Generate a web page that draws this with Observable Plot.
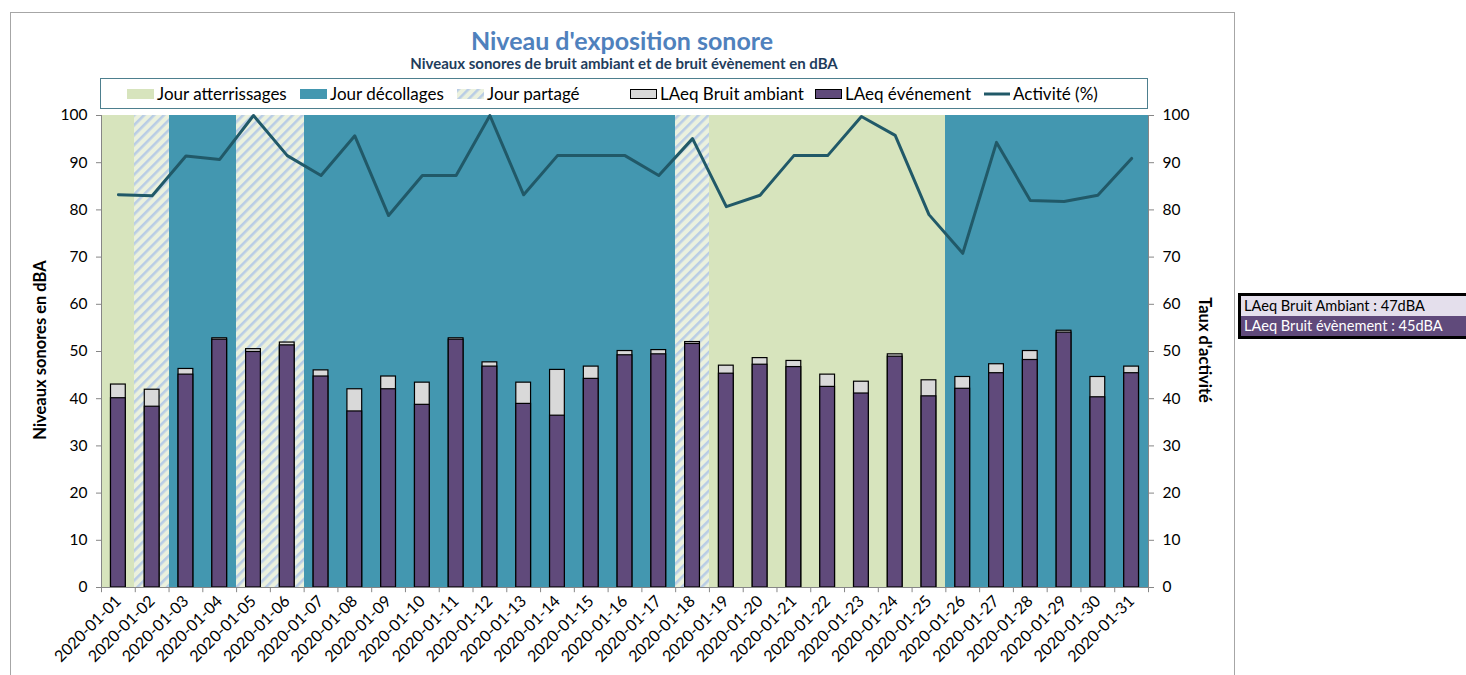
<!DOCTYPE html>
<html><head><meta charset="utf-8">
<script src="https://cdn.jsdelivr.net/npm/d3@7"></script>
<script src="https://cdn.jsdelivr.net/npm/@observablehq/plot@0.6"></script>
<style>
body{margin:0;width:1466px;height:675px;position:relative;overflow:hidden;background:#fff;font-family:Lato,"Open Sans",sans-serif;}
.abs{position:absolute;}
#frame{left:10px;top:12px;width:1223px;height:720px;border:1px solid #a6a6a6;}
#title{left:10px;width:1224px;top:25px;text-align:center;font-size:25px;font-weight:bold;color:#4f81bd;line-height:30px;}
#subtitle{left:10px;width:1228px;top:55px;text-align:center;font-size:15px;font-weight:bold;color:#1f3d5c;line-height:17px;}
#legend{left:100px;top:78px;width:1046px;height:29px;border:1px solid #4d7f8e;background:#fff;}
.li{position:absolute;top:0;height:29px;display:flex;align-items:center;font-size:17px;color:#000;white-space:nowrap;}
.sw{display:inline-block;height:10px;margin-right:3px;box-sizing:border-box;}
#chart{left:0;top:0;}
.ytitle{font-size:16.5px;font-weight:bold;white-space:nowrap;}
#info{left:1238px;top:293px;width:232px;border:3px solid #000;font-size:14.6px;}
#info div{height:20px;line-height:20px;padding-left:3px;}
</style></head>
<body>
<svg width="0" height="0" style="position:absolute">
 <defs>
  <pattern id="hatch" patternUnits="userSpaceOnUse" width="7" height="7" patternTransform="rotate(45)">
   <rect x="0" y="0" width="7" height="7" fill="#ebf1de"></rect>
   <rect x="0" y="0" width="2.6" height="7" fill="#b9cde5"></rect>
  </pattern>
 </defs>
</svg>
<div id="frame" class="abs"></div>
<div id="chart" class="abs"></div>
<div id="title" class="abs">Niveau d'exposition sonore</div>
<div id="subtitle" class="abs">Niveaux sonores de bruit ambiant et de bruit évènement en dBA</div>
<div id="legend" class="abs"></div>
<div class="abs ytitle" id="yl">Niveaux sonores en dBA</div>
<div class="abs ytitle" id="yr">Taux d'activité</div>
<div id="info" class="abs">
 <div style="background:#e4dfec;color:#000">LAeq Bruit Ambiant : 47dBA</div>
 <div style="background:#604a7b;color:#fff">LAeq Bruit évènement : 45dBA</div>
</div>
<script>
const dates = ["2020-01-01","2020-01-02","2020-01-03","2020-01-04","2020-01-05","2020-01-06","2020-01-07","2020-01-08","2020-01-09","2020-01-10","2020-01-11","2020-01-12","2020-01-13","2020-01-14","2020-01-15","2020-01-16","2020-01-17","2020-01-18","2020-01-19","2020-01-20","2020-01-21","2020-01-22","2020-01-23","2020-01-24","2020-01-25","2020-01-26","2020-01-27","2020-01-28","2020-01-29","2020-01-30","2020-01-31"];
// A = Jour atterrissages, D = Jour décollages, P = Jour partagé
const dayType = ["A","P","D","D","P","P","D","D","D","D","D","D","D","D","D","D","D","P","A","A","A","A","A","A","A","D","D","D","D","D","D"];
const ambient = [43.0,41.9,46.3,52.8,50.5,51.9,46.0,42.0,44.7,43.4,52.8,47.7,43.4,46.1,46.8,50.1,50.3,52.0,47.0,48.6,48.0,45.1,43.6,49.4,43.9,44.6,47.3,50.1,54.4,44.6,46.8];
const event = [40.1,38.3,45.1,52.5,49.9,51.3,44.7,37.3,42.0,38.7,52.5,46.8,38.9,36.4,44.2,49.2,49.4,51.6,45.3,47.2,46.7,42.5,41.1,48.9,40.5,42.1,45.4,48.2,54.0,40.3,45.4];
const activity = [83.2,83.0,91.4,90.7,100,91.5,87.3,95.7,78.8,87.3,87.3,100,83.2,91.5,91.5,91.5,87.3,95.1,80.7,83.1,91.5,91.5,99.8,95.8,79.0,70.8,94.3,82.0,81.8,83.1,90.9];
const yTicks = [0,10,20,30,40,50,60,70,80,90,100];
const legendItems = [
  {label:"Jour atterrissages", kind:"A"},
  {label:"Jour décollages", kind:"D"},
  {label:"Jour partagé", kind:"P"},
  {label:"LAeq Bruit ambiant", kind:"amb"},
  {label:"LAeq événement", kind:"evt"},
  {label:"Activité (%)", kind:"line"}
];
const colors = {A:"#d7e4bd", D:"#4397b0", P:"url(#hatch)", amb:"#d9d9d9", evt:"#604a7b", line:"#215968"};

const rows = dates.map((d,i)=>({date:d, type:dayType[i], ambient:ambient[i], event:event[i], activity:activity[i]}));

const W=1466, H=675, mL=101, mR=318, mT=115, mB=88;
const bw = (W-mL-mR)/dates.length;
const inset = 9.5;
const axisGray = "#868686";

const bg = (type) => Plot.barY(rows.filter(r=>r.type===type), {x:"date", y1:0, y2:100, fill:colors[type], insetLeft:-0.5, insetRight:-0.5, shapeRendering:"crispEdges"});

const chart = Plot.plot({
  width:W, height:H, marginLeft:mL, marginRight:mR, marginTop:mT, marginBottom:mB,
  style:{fontFamily:"Lato, sans-serif", fontSize:"15.5px", background:"transparent", color:"#000"},
  x:{type:"band", domain:dates, padding:0, round:false, label:null},
  y:{domain:[0,100], label:null},
  marks:[
    bg("A"), bg("D"), bg("P"),
    Plot.barY(rows, {x:"date", y1:0, y2:"ambient", fill:colors.amb, stroke:"#000", strokeWidth:1.2, insetLeft:inset, insetRight:inset}),
    Plot.barY(rows, {x:"date", y1:0, y2:"event", fill:colors.evt, stroke:"#000", strokeWidth:1.2, insetLeft:inset, insetRight:inset}),
    Plot.line(rows, {x:"date", y:"activity", stroke:colors.line, strokeWidth:3}),
    Plot.ruleY([0], {stroke:axisGray}),
    Plot.ruleX([dates[0]], {y1:0, y2:100, stroke:axisGray, dx:-bw/2}),
    Plot.ruleX([dates[dates.length-1]], {y1:0, y2:100, stroke:axisGray, dx:bw/2}),
    Plot.ruleX(dates, {y1:0, y2:-1.1, stroke:axisGray, dx:-bw/2}),
    Plot.ruleX([dates[dates.length-1]], {y1:0, y2:-1.1, stroke:axisGray, dx:bw/2}),
    Plot.axisY({anchor:"left", ticks:yTicks, tickSize:5, tickPadding:9, stroke:axisGray, fill:"#000", label:null}),
    Plot.axisY({anchor:"right", ticks:yTicks, tickSize:5, tickPadding:9, stroke:axisGray, fill:"#000", label:null}),
    Plot.axisX({tickSize:0, tickRotate:-45, tickPadding:11, fill:"#000", fontSize:16, label:null})
  ]
});
document.getElementById("chart").appendChild(chart);

// legend
const legend = document.getElementById("legend");
const pos = [26, 199, 356, 529, 714, 883];
legendItems.forEach((it,i)=>{
  const el = document.createElement("div");
  el.className="li";
  el.style.left = pos[i]+"px";
  let sw;
  if (it.kind==="line") {
    sw = `<svg width="26" height="10" style="margin-right:3px"><line x1="0" x2="26" y1="5" y2="5" stroke="${colors.line}" stroke-width="3"/></svg>`;
  } else if (it.kind==="P") {
    sw = `<svg width="27" height="10" style="margin-right:3px"><rect width="27" height="10" fill="url(#hatch)"/></svg>`;
  } else {
    const border = (it.kind==="amb"||it.kind==="evt") ? "border:1px solid #000;" : "";
    sw = `<span class="sw" style="width:27px;background:${colors[it.kind]};${border}"></span>`;
  }
  el.innerHTML = sw + it.label;
  legend.appendChild(el);
});

// axis titles
const yl = document.getElementById("yl");
yl.style.left = (40 - 100)+"px"; yl.style.top = "340px"; yl.style.width="200px"; yl.style.textAlign="center";
yl.style.transform = "rotate(-90deg)";
const yr = document.getElementById("yr");
yr.style.left = (1205 - 100)+"px"; yr.style.top = "340px"; yr.style.width="200px"; yr.style.textAlign="center";
yr.style.transform = "rotate(90deg)";
</script>
</body></html>
